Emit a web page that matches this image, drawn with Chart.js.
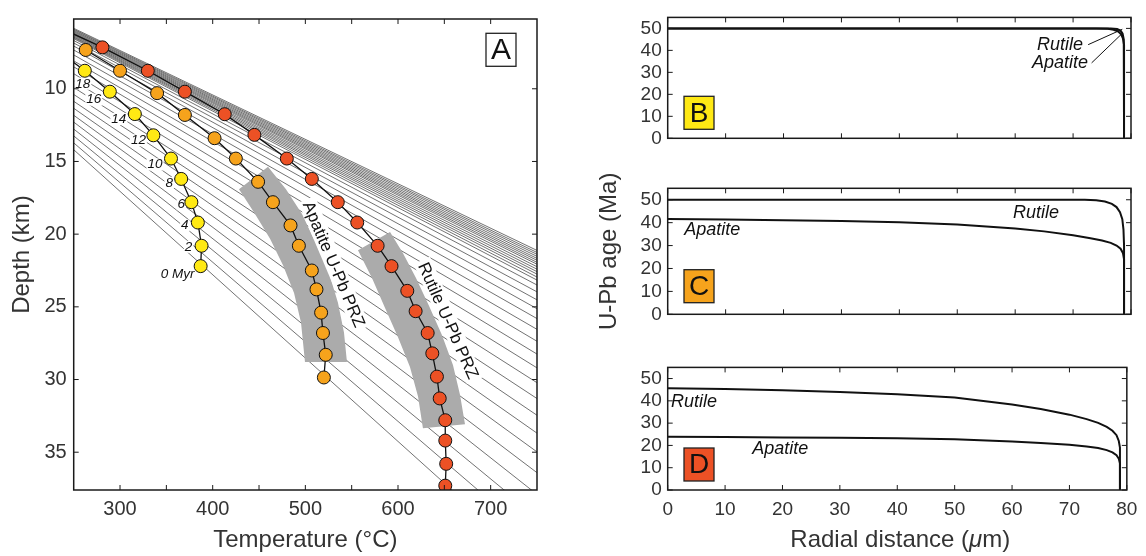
<!DOCTYPE html>
<html>
<head>
<meta charset="utf-8">
<script src="https://cdn.jsdelivr.net/npm/chart.js@4"></script>
<style>
body { margin: 0; background: #fff; width: 1146px; height: 556px; position: relative; overflow: hidden; }
canvas { position: absolute; }
</style>
</head>
<body>
<canvas id="panelA" width="560" height="556" style="left:0;top:0"></canvas>
<canvas id="panelB" width="586" height="170" style="left:560px;top:0"></canvas>
<canvas id="panelC" width="586" height="180" style="left:560px;top:170px"></canvas>
<canvas id="panelD" width="586" height="206" style="left:560px;top:350px"></canvas>
<script>
// ---- panel A: temperature (°C) vs depth (km) ----
const tempTickMarks = [300, 350, 400, 450, 500, 550, 600, 650, 700]
const depthTicks = [10, 15, 20, 25, 30, 35]

// geotherms: depth at 250 °C and at 750 °C
const geoT = [250, 750]
const geoLeftDepth = [5.84, 5.90, 5.95, 6.01, 6.06, 6.12, 6.17, 6.22, 6.28, 6.33, 6.39, 6.44, 6.49, 6.55,
    6.68, 6.85, 7.06, 7.33, 7.67, 8.08, 8.49, 8.96, 9.44, 9.91, 10.39, 10.86, 11.34, 11.82, 12.29, 12.77, 13.24, 13.72, 14.19]
const geoRightDepth = [21.12, 21.26, 21.39, 21.53, 21.67, 21.80, 21.94, 22.07, 22.24, 22.41, 22.58, 22.75, 22.95, 23.16,
    23.50, 23.97, 24.52, 25.13, 25.81, 26.55, 27.37, 28.25, 29.20, 30.22, 31.31, 32.46, 33.69, 34.98, 36.41, 37.90, 39.46, 41.09, 42.86]

// sample paths (first point of red / yellow is only the line entering from the axis)
const redT = [250, 281, 330, 370, 413, 445, 480, 507, 535, 556, 578, 593, 610, 619, 632, 637, 642, 645, 651, 651, 652, 651]
const redDepth = [6.24, 7.15, 8.76, 10.2, 11.75, 13.17, 14.8, 16.2, 17.8, 19.2, 20.8, 22.2, 23.9, 25.3, 26.8, 28.2, 29.8, 31.3, 32.8, 34.2, 35.8, 37.3]
const orangeT = [263, 300, 340, 370, 402, 425, 449, 465, 484, 493, 507, 512, 517, 519, 522, 520]
const orangeDepth = [7.33, 8.76, 10.3, 11.8, 13.4, 14.8, 16.4, 17.8, 19.4, 20.8, 22.5, 23.8, 25.4, 26.8, 28.3, 29.86]
const yellowT = [250, 262, 289, 316, 336, 355, 366, 377, 384, 388, 387]
const yellowDepth = [8.19, 8.76, 10.2, 11.74, 13.2, 14.8, 16.2, 17.8, 19.2, 20.8, 22.2]
const yellowLabels = ['', '18', '16', '14', '12', '10', '8', '6', '4', '2', '0 Myr']

// partial retention zones (outline, T / depth)
const apatiteBandT = [428.4, 445.7, 461.9, 475.9, 487.8, 495.3, 499.6, 544.9, 541.7, 535.2, 525.5, 511.5, 496.4, 479.1, 459.7]
const apatiteBandDepth = [16.91, 18.61, 20.31, 22.14, 24.04, 26.08, 28.8, 28.8, 26.76, 24.72, 22.68, 20.65, 18.61, 16.91, 15.37]
const rutileBandT = [556.8, 571.9, 585.9, 600.0, 612.9, 621.6, 626.9, 672.3, 666.9, 659.3, 647.5, 633.4, 619.4, 605.4, 591.4]
const rutileBandDepth = [21.1, 23.02, 25.06, 27.1, 29.14, 31.17, 33.35, 33.08, 31.04, 29.0, 26.96, 24.92, 23.02, 21.32, 19.85]

// ---- panels B-D: U-Pb age (Ma) vs radial distance (µm) ----
const radialTicks = [0, 10, 20, 30, 40, 50, 60, 70, 80]
const ageTicks = [0, 10, 20, 30, 40, 50]

const bRutileX = [0, 74, 76, 77, 77.8, 78.3, 78.6, 78.8, 78.8]
const bRutileAge = [50, 50, 49.8, 49.4, 48.6, 47.3, 45.5, 42.5, 0]
const bApatiteX = [0, 76.5, 77.6, 78.2, 78.55, 78.75, 78.8]
const bApatiteAge = [50, 50, 49.7, 49.0, 47.6, 45, 0]

const cRutileX = [0, 72, 74, 75.5, 76.7, 77.5, 78.1, 78.5, 78.7, 78.8, 78.8]
const cRutileAge = [50, 50, 49.8, 49.2, 48.2, 46.8, 44.6, 41.5, 37, 30, 0]
const cApatiteX = [0, 10, 20, 30, 40, 50, 60, 65, 70, 73, 75, 76.5, 77.5, 78.2, 78.6, 78.8, 78.8]
const cApatiteAge = [41.6, 41.4, 41.1, 40.7, 40.2, 39.2, 37.5, 36.2, 34.5, 33.2, 32.2, 31.2, 30.0, 28.6, 26.8, 24, 0]

const dRadialX = [0, 10, 20, 30, 40, 50, 60, 65, 70, 73, 75, 76.5, 77.5, 78.2, 78.6, 78.8, 78.8]
const dRutileAge = [45.6, 45.3, 44.8, 44.0, 42.9, 41.5, 38.4, 36.3, 33.8, 31.8, 30.1, 28.3, 26.6, 24.6, 22.0, 19, 0]
const dApatiteAge = [23.9, 23.8, 23.6, 23.4, 23.2, 22.8, 21.8, 21.1, 20.3, 19.5, 18.8, 17.9, 16.9, 15.6, 14.0, 12, 0]

const FONT = "'Liberation Sans', Arial, Helvetica, sans-serif"
const YELLOW = '#ffe914', ORANGE = '#f6a31c', RED = '#ec5125'

const pts = (xs, ys) => xs.map((v, i) => ({ x: v, y: ys[i] }))

// inward tick marks on all four sides + box frame
const inwardTicks = {
    id: 'inwardTicks',
    afterDraw(chart) {
        const { ctx, chartArea: a, scales: { x, y } } = chart
        const L = 5
        ctx.save()
        ctx.strokeStyle = '#1a1a1a'
        ctx.lineWidth = 1
        ctx.beginPath()
        x.ticks.forEach(t => {
            const px = x.getPixelForValue(t.value)
            ctx.moveTo(px, a.bottom); ctx.lineTo(px, a.bottom - L)
            ctx.moveTo(px, a.top); ctx.lineTo(px, a.top + L)
        })
        y.ticks.forEach(t => {
            const py = y.getPixelForValue(t.value)
            ctx.moveTo(a.left, py); ctx.lineTo(a.left + L, py)
            ctx.moveTo(a.right, py); ctx.lineTo(a.right - L, py)
        })
        ctx.stroke()
        ctx.lineWidth = 1.5
        ctx.strokeRect(a.left, a.top, a.width, a.height)
        ctx.restore()
    }
}

// panel letter in a box
function letterBox(text, fill, place) {
    return {
        id: 'letterBox',
        afterDraw(chart) {
            const { ctx, chartArea: a } = chart
            const w = 30, h = 33
            const left = place.right != null ? a.right - place.right - w : a.left + place.left
            const top = place.top != null ? a.top + place.top : a.bottom - place.bottom - h
            ctx.save()
            ctx.fillStyle = fill
            ctx.fillRect(left, top, w, h)
            ctx.strokeStyle = '#222'
            ctx.lineWidth = 1.3
            ctx.strokeRect(left, top, w, h)
            ctx.fillStyle = '#111'
            ctx.font = `${place.size}px ${FONT}`
            ctx.textAlign = 'center'
            ctx.textBaseline = 'middle'
            ctx.fillText(text, left + w / 2, top + h / 2 + 1)
            ctx.restore()
        }
    }
}

// italic notes placed in data coordinates
function notes(list, leaders) {
    return {
        id: 'notes',
        afterDatasetsDraw(chart) {
            const { ctx, scales: { x, y } } = chart
            ctx.save()
            ctx.fillStyle = '#111'
            ctx.font = `italic 18px ${FONT}`
            ctx.textAlign = 'center'
            ctx.textBaseline = 'middle'
            list.forEach(n => ctx.fillText(n.text, x.getPixelForValue(n.x), y.getPixelForValue(n.y)))
            if (leaders) {
                ctx.strokeStyle = '#111'
                ctx.lineWidth = 1
                ctx.beginPath()
                leaders.forEach(l => {
                    ctx.moveTo(x.getPixelForValue(l[0]), y.getPixelForValue(l[1]))
                    ctx.lineTo(x.getPixelForValue(l[2]), y.getPixelForValue(l[3]))
                })
                ctx.stroke()
            }
            ctx.restore()
        }
    }
}

// PRZ labels and Myr labels, drawn under the sample paths
const przNotes = [
    { text: 'Apatite U-Pb PRZ', t: 531, d: 22.07, angle: 67 },
    { text: 'Rutile U-Pb PRZ', t: 654.5, d: 25.94, angle: 66 }
]
const myrOffsets = [null, [-2, 13], [-16, 8], [-16, 5], [-15, 5], [-16, 6], [-12, 4], [-10, 2], [-13, 3], [-13, 1], [-23, 8]]

const panelANotes = {
    id: 'panelANotes',
    beforeDatasetDraw(chart, args) {
        if (args.index !== 2) return
        const { ctx, scales: { x, y } } = chart
        ctx.save()
        przNotes.forEach(p => {
            ctx.save()
            ctx.translate(x.getPixelForValue(p.t), y.getPixelForValue(p.d))
            ctx.rotate(p.angle * Math.PI / 180)
            ctx.font = `17px ${FONT}`
            const w = ctx.measureText(p.text).width
            ctx.fillStyle = '#fff'
            ctx.fillRect(-w / 2 - 3, -9, w + 6, 18)
            ctx.fillStyle = '#111'
            ctx.textAlign = 'center'
            ctx.textBaseline = 'middle'
            ctx.fillText(p.text, 0, 1)
            ctx.restore()
        })
        const meta = chart.getDatasetMeta(2)
        ctx.font = `italic 13.5px ${FONT}`
        ctx.textAlign = 'center'
        ctx.textBaseline = 'middle'
        yellowLabels.forEach((lab, i) => {
            if (!lab) return
            const p = meta.data[i]
            const cx = p.x + myrOffsets[i][0], cy = p.y + myrOffsets[i][1]
            const w = ctx.measureText(lab).width
            ctx.fillStyle = '#fff'
            ctx.fillRect(cx - w / 2 - 1, cy - 6, w + 2, 12)
            ctx.fillStyle = '#111'
            ctx.fillText(lab, cx, cy)
        })
        ctx.restore()
    }
}

function pathSet(xs, ys, color) {
    return {
        data: pts(xs, ys),
        showLine: true,
        borderColor: '#111',
        borderWidth: 1.3,
        pointBackgroundColor: color,
        pointBorderColor: '#111',
        pointBorderWidth: 1,
        pointRadius: c => (c.raw && c.raw.x <= 250 ? 0 : 6.5),
        order: 0
    }
}
function bandSet(xs, ys) {
    return {
        data: pts(xs, ys),
        showLine: true,
        fill: 'shape',
        backgroundColor: '#ababab',
        borderWidth: 0,
        pointRadius: 0,
        order: 1
    }
}
const geotherms = geoLeftDepth.map((d, i) => ({
    data: pts(geoT, [d, geoRightDepth[i]]),
    showLine: true,
    borderColor: '#626262',
    borderWidth: 0.9,
    pointRadius: 0,
    order: 2
}))

const tickFont = size => ({ family: FONT, size })

new Chart(document.getElementById('panelA'), {
    type: 'scatter',
    data: {
        datasets: [
            pathSet(redT, redDepth, RED),
            pathSet(orangeT, orangeDepth, ORANGE),
            pathSet(yellowT, yellowDepth, YELLOW),
            bandSet(apatiteBandT, apatiteBandDepth),
            bandSet(rutileBandT, rutileBandDepth),
            ...geotherms
        ]
    },
    options: {
        animation: false,
        responsive: false,
        devicePixelRatio: 1,
        events: [],
        layout: { padding: { top: 12.7, right: 23, left: 0, bottom: 0 } },
        plugins: { legend: { display: false }, tooltip: { enabled: false } },
        scales: {
            x: {
                type: 'linear', min: 250, max: 750,
                grid: { display: false, drawTicks: false }, border: { display: false },
                afterBuildTicks: s => { s.ticks = tempTickMarks.map(v => ({ value: v })) },
                afterFit: s => { s.height = 66 },
                ticks: { padding: 7, color: '#333', font: tickFont(20), maxRotation: 0, autoSkip: false,
                    callback: v => (v % 100 === 0 ? v : '') },
                title: { display: true, text: 'Temperature (°C)', color: '#333', font: tickFont(24), padding: { top: 0, bottom: 1.5 } }
            },
            y: {
                type: 'linear', reverse: true, min: 5.2, max: 37.6,
                grid: { display: false, drawTicks: false }, border: { display: false },
                afterBuildTicks: s => { s.ticks = depthTicks.map(v => ({ value: v })) },
                afterFit: s => { s.width = 73.7 },
                ticks: { padding: 7, color: '#333', font: tickFont(20), autoSkip: false },
                title: { display: true, text: 'Depth (km)', color: '#333', font: tickFont(24), padding: { top: 8, bottom: 0 } }
            }
        }
    },
    plugins: [inwardTicks, panelANotes, letterBox('A', '#fff', { right: 21, top: 14.3, size: 30 })]
})

function curve(xs, ys) {
    return { data: pts(xs, ys), showLine: true, borderColor: '#111', borderWidth: 2, pointRadius: 0 }
}

function agePanel(id, datasets, cfg) {
    return new Chart(document.getElementById(id), {
        type: 'scatter',
        data: { datasets },
        options: {
            animation: false,
            responsive: false,
            devicePixelRatio: 1,
            events: [],
            layout: { padding: { top: cfg.top, right: 15, left: 0, bottom: 0 } },
            plugins: { legend: { display: false }, tooltip: { enabled: false } },
            scales: {
                x: {
                    type: 'linear', min: 0, max: 80,
                    grid: { display: false, drawTicks: false }, border: { display: false },
                    afterBuildTicks: s => { s.ticks = radialTicks.map(v => ({ value: v })) },
                    afterFit: s => { s.height = cfg.xHeight },
                    ticks: { padding: 8.6, color: '#333', font: tickFont(19), maxRotation: 0, autoSkip: false,
                        callback: v => (cfg.xLabels ? v : '') }
                },
                y: {
                    type: 'linear', min: 0, max: 55,
                    grid: { display: false, drawTicks: false }, border: { display: false },
                    afterBuildTicks: s => { s.ticks = ageTicks.map(v => ({ value: v })) },
                    afterFit: s => { s.width = 107.7 },
                    ticks: { padding: 6, color: '#333', font: tickFont(19), autoSkip: false },
                    title: { display: !!cfg.yTitle, text: cfg.yTitle || '', color: '#333', font: tickFont(24), padding: { top: 35, bottom: 0 } }
                }
            }
        },
        plugins: [inwardTicks, ...cfg.extra]
    })
}

// x-axis title of the bottom panel, with an italic mu
const radialTitle = {
    id: 'radialTitle',
    afterDraw(chart) {
        const { ctx, chartArea: a } = chart
        const parts = [['Radial distance (', ''], ['\u03bc', 'italic '], ['m)', '']]
        ctx.save()
        ctx.fillStyle = '#333'
        ctx.textBaseline = 'middle'
        let total = 0
        parts.forEach(p => { ctx.font = `${p[1]}24px ${FONT}`; total += ctx.measureText(p[0]).width })
        let cx = (a.left + a.right) / 2 + 3 - total / 2
        const cy = 190
        parts.forEach(p => {
            ctx.font = `${p[1]}24px ${FONT}`
            ctx.fillText(p[0], cx, cy)
            cx += ctx.measureText(p[0]).width
        })
        ctx.restore()
    }
}

agePanel('panelB', [curve(bRutileX, bRutileAge), curve(bApatiteX, bApatiteAge)], {
    top: 12, xHeight: 31.7, xLabels: false,
    extra: [
        notes([{ text: 'Rutile', x: 67.75, y: 42.4 }, { text: 'Apatite', x: 67.75, y: 34.1 }],
            [[72.6, 42.6, 78.5, 49.6], [73.2, 34.3, 78.6, 48.0]]),
        letterBox('B', YELLOW, { left: 16.3, bottom: 9, size: 28 })
    ]
})

agePanel('panelC', [curve(cRutileX, cRutileAge), curve(cApatiteX, cApatiteAge)], {
    top: 18.3, xHeight: 35.7, xLabels: false, yTitle: 'U-Pb age (Ma)',
    extra: [
        notes([{ text: 'Rutile', x: 63.6, y: 44.3 }, { text: 'Apatite', x: 7.7, y: 36.8 }]),
        letterBox('C', ORANGE, { left: 16.3, bottom: 11.6, size: 28 })
    ]
})

agePanel('panelD', [curve(dRadialX, dRutileAge), curve(dRadialX, dApatiteAge)], {
    top: 14, xHeight: 66, xLabels: true,
    extra: [
        notes([{ text: 'Rutile', x: 4.6, y: 39.3 }, { text: 'Apatite', x: 19.6, y: 18.5 }]),
        letterBox('D', RED, { left: 16.3, bottom: 9, size: 28 }),
        radialTitle
    ]
})
</script>
</body>
</html>
